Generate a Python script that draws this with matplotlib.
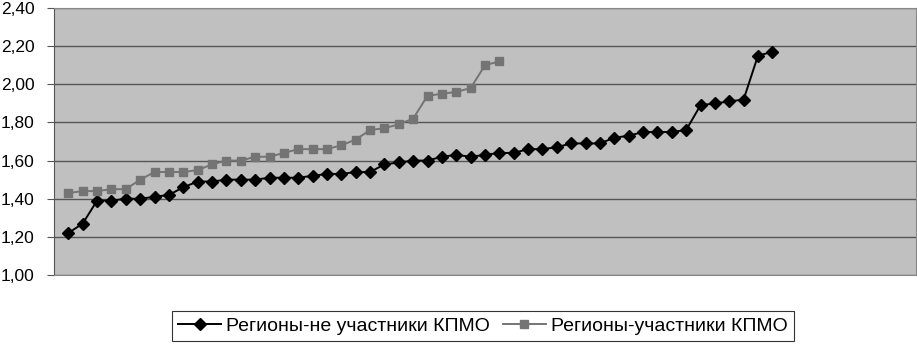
import matplotlib
matplotlib.use("Agg")
import matplotlib.pyplot as plt
from matplotlib.ticker import FuncFormatter

# Regions that did not take part in KPMO (black diamonds)
non_participants = [
    1.22, 1.27, 1.39, 1.39, 1.40, 1.40, 1.41, 1.42, 1.46, 1.49,
    1.49, 1.50, 1.50, 1.50, 1.51, 1.51, 1.51, 1.52, 1.53, 1.53,
    1.54, 1.54, 1.58, 1.59, 1.60, 1.60, 1.62, 1.63, 1.62, 1.63,
    1.64, 1.64, 1.66, 1.66, 1.67, 1.69, 1.69, 1.69, 1.72, 1.73,
    1.75, 1.75, 1.75, 1.76, 1.89, 1.90, 1.91, 1.92, 2.15, 2.17,
]

# Regions taking part in KPMO (gray squares)
participants = [
    1.43, 1.44, 1.44, 1.45, 1.45, 1.50, 1.54, 1.54, 1.54, 1.55,
    1.58, 1.60, 1.60, 1.62, 1.62, 1.64, 1.66, 1.66, 1.66, 1.68,
    1.71, 1.76, 1.77, 1.79, 1.82, 1.94, 1.95, 1.96, 1.98, 2.10,
    2.12,
]

label_non = "Регионы-не участники КПМО"
label_part = "Регионы-участники КПМО"
y_ticks = [1.0, 1.2, 1.4, 1.6, 1.8, 2.0, 2.2, 2.4]
n_categories = 60

plt.rcParams["font.family"] = ["Liberation Sans", "DejaVu Sans"]

fig = plt.figure(figsize=(9.17, 3.45), dpi=100)
ax = fig.add_axes([54 / 917, 1 - 275 / 345, (916 - 54) / 917, (275 - 8) / 345])
ax.set_facecolor("#c0c0c0")

x_non = range(1, len(non_participants) + 1)
x_part = range(1, len(participants) + 1)

ax.plot(x_non, non_participants, color="black", lw=1.4, marker="D",
        markersize=6.5, label=label_non, zorder=3)
ax.plot(x_part, participants, color="#747474", lw=1.4, marker="s",
        markersize=6.2, label=label_part, zorder=3)

ax.set_xlim(0, n_categories)
ax.set_ylim(1.0, 2.4)
ax.set_yticks(y_ticks)
ax.yaxis.set_major_formatter(FuncFormatter(lambda v, p: f"{v:.2f}".replace(".", ",")))
ax.set_xticks([])
ax.tick_params(axis="y", labelsize=12.5, length=5, color="#555555", pad=9)
ax.grid(axis="y", color="#555555", lw=1)
ax.set_axisbelow(True)

for side in ["top", "right", "bottom"]:
    ax.spines[side].set_color("#888888")
ax.spines["left"].set_color("#555555")

leg = fig.legend(loc="center", bbox_to_anchor=(483 / 917, 1 - 326 / 345), ncol=2,
                 fontsize=14, frameon=True, fancybox=False, edgecolor="black",
                 handlelength=2.2, handletextpad=0.28, columnspacing=0.65,
                 borderpad=0.3, borderaxespad=0)
leg.get_frame().set_linewidth(0.8)

fig.savefig("out.png", dpi=100)
